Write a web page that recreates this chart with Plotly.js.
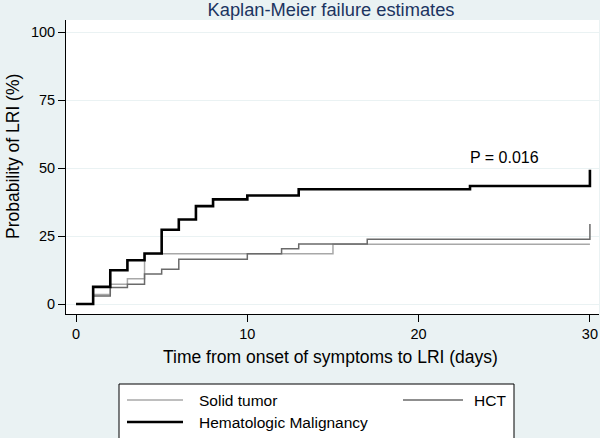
<!DOCTYPE html>
<html>
<head>
<meta charset="utf-8">
<script src="https://cdn.plot.ly/plotly-3.0.1.min.js"></script>
<style>html,body{margin:0;padding:0;background:#eaf2f3;}#chart{width:600px;height:438px;}</style>
</head>
<body>
<div id="chart"></div>
<script>
// Kaplan-Meier failure estimates (percent), step changes at given days
const solidDays = [0, 1, 2, 3, 4, 15, 30];
const solidPct  = [0, 3.5, 7.3, 9.3, 18.5, 22.0, 22.0];

const hctDays = [0, 1, 2, 3, 4, 5, 6, 10, 12, 13, 17, 30];
const hctPct  = [0, 2.9, 6.1, 7.3, 11.0, 12.8, 16.5, 18.5, 20.3, 22.1, 23.8, 29.4];

const hemeDays = [0, 1, 2, 3, 4, 5, 6, 7, 8, 10, 13, 23, 30];
const hemePct  = [0, 6.3, 12.4, 16.1, 18.6, 27.3, 31.1, 36.0, 38.5, 39.9, 42.2, 43.4, 49.4];

const seriesNames = ["Solid tumor", "HCT", "Hematologic Malignancy"];
const seriesColors = ["#a8a8a8", "#6a6a6a", "#000000"];
const seriesWidths = [1.5, 1.5, 2.6];
const xTicks = [0, 10, 20, 30];
const yTicks = [0, 25, 50, 75, 100];
const pLabel = "P = 0.016";
const pPos = [25.0, 53.8];

const font = "Liberation Sans, Arial, Helvetica, sans-serif";

// plot area in pixels: left 66, right 599, top 20, bottom 314
const PL = 66, PR = 599, PT = 20, PB = 314;
const px = v => (v - PL) / (PR - PL);
const py = v => (PB - v) / (PB - PT);

const dataSets = [[solidDays, solidPct], [hctDays, hctPct], [hemeDays, hemePct]];
const traces = dataSets.map((d, i) => ({
  x: d[0], y: d[1], name: seriesNames[i], mode: "lines", showlegend: false,
  line: {shape: "hv", color: seriesColors[i], width: seriesWidths[i]}
}));

// manual legend (Stata-style box)
const legendItems = [
  {line: [127, 183], y: 400, textX: 197},
  {line: [403, 463], y: 400, textX: 472},
  {line: [127, 183], y: 422, textX: 197}
];
const shapes = [
  {type: "rect", xref: "paper", yref: "paper", x0: px(119), x1: px(514), y0: py(384), y1: py(440),
   fillcolor: "#ffffff", line: {color: "#000", width: 1}, layer: "above"}
];
const annotations = [
  {x: pPos[0], y: pPos[1], xref: "x", yref: "y", text: pLabel, showarrow: false, font: {size: 16}},
  {x: px(330), y: py(357), xref: "paper", yref: "paper", text: "Time from onset of symptoms to LRI (days)",
   showarrow: false, font: {size: 17.5}, xanchor: "center", yanchor: "middle"},
  {x: px(13), y: py(157), xref: "paper", yref: "paper", text: "Probability of LRI (%)", textangle: -90,
   showarrow: false, font: {size: 17.5}, xanchor: "center", yanchor: "middle"}
];
legendItems.forEach((it, i) => {
  shapes.push({type: "line", xref: "paper", yref: "paper", x0: px(it.line[0]), x1: px(it.line[1]),
    y0: py(it.y), y1: py(it.y), line: {color: seriesColors[i], width: seriesWidths[i]}, layer: "above"});
  annotations.push({x: px(it.textX), y: py(it.y), xref: "paper", yref: "paper", text: seriesNames[i],
    showarrow: false, xanchor: "left", yanchor: "middle", font: {size: 15.5}});
});

const layout = {
  width: 600, height: 438,
  paper_bgcolor: "#eaf2f3",
  plot_bgcolor: "#ffffff",
  margin: {l: PL, r: 600 - PR, t: PT, b: 438 - PB},
  font: {family: font, color: "#000", size: 14},
  title: {text: "Kaplan-Meier failure estimates", font: {family: font, size: 18.3, color: "#1c3461"},
    x: 331 / 600, xanchor: "center", y: 1 - 10 / 438, yanchor: "middle"},
  xaxis: {
    range: [-0.585, 30.53], tickvals: xTicks, ticks: "outside", ticklen: 7, tickcolor: "#000",
    showline: true, linecolor: "#000", linewidth: 1, showgrid: false, zeroline: false,
    tickfont: {size: 14.5}, automargin: false
  },
  yaxis: {
    range: [-3.68, 104.5], tickvals: yTicks, ticks: "outside", ticklen: 7, tickcolor: "#000",
    showline: true, linecolor: "#000", linewidth: 1, showgrid: true, gridcolor: "#eaf2f3", gridwidth: 1, zeroline: false,
    tickfont: {size: 14.5}, automargin: false
  },
  showlegend: false,
  shapes: shapes,
  annotations: annotations
};

Plotly.newPlot("chart", traces, layout, {displayModeBar: false, staticPlot: true});
</script>
</body>
</html>
